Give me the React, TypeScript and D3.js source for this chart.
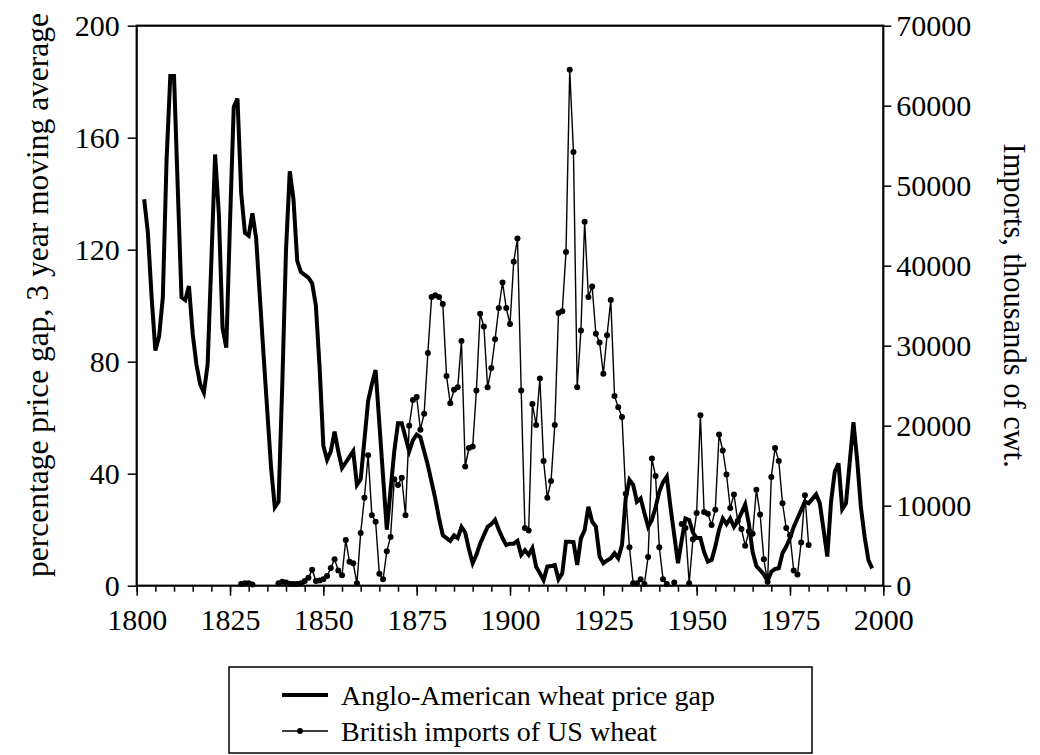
import { useEffect, useRef } from 'react';
import * as d3 from 'd3';

// Anglo-American wheat price gap, % (3 year moving average), one value per year from gapStart
const gapStart = 1802;
const gapValues = [
  138, 126, 103, 84, 89, 103, 152, 182, 182, 142,
  103, 102, 107, 90, 79, 72, 69, 79, 116, 154,
  133, 92, 85, 130, 171, 174, 140, 126, 125, 133,
  124, 103, 82, 62, 42, 28, 30, 72, 120, 148,
  138, 116, 112, 111, 110, 108, 100, 78, 50, 45,
  48, 55, 48, 42, 44, 46, 48, 36, 38, 52,
  66, 72, 77, 58, 39, 20, 34, 48, 58, 58,
  53, 48, 52, 54, 53, 48, 43, 37, 31, 24,
  18, 17, 16, 18, 17, 21, 19, 13, 8, 11,
  15, 18, 21, 22, 23.5, 20, 17, 14.5, 15, 15,
  16, 11, 12.7, 11, 13.4, 6.8, 4.5, 2, 6.8, 7,
  7.4, 2.3, 4.4, 15.7, 15.7, 15.6, 7.4, 16.9, 19.9, 28.2,
  22.9, 21.1, 10.4, 8, 9, 9.8, 11.6, 9.8, 14.5, 31.2,
  37.8, 36, 30, 31.2, 26, 21.1, 23.5, 28, 33.6, 37,
  39, 28, 18, 8, 16.3, 24, 23.5, 19, 17, 17,
  12, 8.6, 9.2, 14, 20, 24, 22, 24, 21, 23,
  26, 29, 22, 12, 7, 5.6, 4, 1.7, 5, 6,
  6.2, 11.6, 14, 17, 21, 24, 27, 30, 29.4, 31,
  32.6, 29.4, 20, 10.4, 30, 40.7, 43.7, 27.3, 29.4, 44,
  58.4, 44.9, 28, 17.5, 9.2, 6.2,
];

// British imports of US wheat, thousands of cwt, from importStart (null = no data)
const importStart = 1828;
const importValues: (number | null)[] = [
  200, 300, 300, 150, null, null, null, null, null, null,
  300, 500, 400, 250, 200, 200, 300, 600, 1000, 2000,
  600, 650, 800, 1200, 2200, 3300, 1900, 1300, 5700, 3000,
  2800, 300, 6600, 11000, 16300, 8800, 8000, 1500, 800, 4300,
  6100, 13300, 12600, 13500, 8800, 20000, 23200, 23600, 19500, 21500,
  29100, 36100, 36300, 36100, 35200, 26200, 22800, 24500, 24800, 30600,
  14900, 17200, 17400, 24400, 34000, 32400, 24800, 27200, 30800, 34700,
  37900, 34700, 32700, 40500, 43400, 24400, 7200, 6900, 22700, 20100,
  25900, 15600, 11000, 13100, 20100, 34100, 34300, 41700, 64500, 54200,
  24800, 31900, 45500, 36100, 37400, 31500, 30400, 26500, 31300, 35700,
  23700, 22300, 21100, 11500, 4800, 300, 300, 800, 200, 3600,
  15900, 13700, 4800, 800, 200, null, 400, null, 7700, 7200,
  300, 5800, 9100, 21300, 9200, 9000, 7600, 9500, 18900, 16900,
  13900, 9700, 11400, 8100, 7100, 5000, 6800, 6500, 12000, 8900,
  3300, 500, 13600, 17200, 15600, 10300, 7200, 6300, 1900, 1400,
  5400, 11300, 5100,
];

const leftTicks = [0, 40, 80, 120, 160, 200];
const rightTicks = [0, 10000, 20000, 30000, 40000, 50000, 60000, 70000];
const yearTicks = [1800, 1825, 1850, 1875, 1900, 1925, 1950, 1975, 2000];

const leftTitle = 'percentage price gap, 3 year moving average';
const rightTitle = 'Imports, thousands of cwt.';
const legendGap = 'Anglo-American wheat price gap';
const legendImports = 'British imports of US wheat';

const FONT = '"Liberation Serif", "Times New Roman", serif';

export default function App() {
  const svgRef = useRef<SVGSVGElement>(null);

  useEffect(() => {
    if (!svgRef.current) return;
    const svg = d3.select(svgRef.current);
    svg.selectAll('*').remove();

    const left = 136.7, right = 883.3, top = 25.7, bottom = 585.7;

    const x = d3.scaleLinear().domain([1800, 2000]).range([left, right]);
    const yL = d3.scaleLinear().domain([0, 200]).range([bottom, top]);
    const yR = d3.scaleLinear().domain([0, 70000]).range([bottom, top]);

    const gap = gapValues.map((v, i) => ({ year: gapStart + i, v }));
    const imports = importValues.map((v, i) => ({ year: importStart + i, v }));

    // axes
    const styleAxis = (g: d3.Selection<SVGGElement, unknown, null, undefined>) => {
      g.select('.domain').remove();
      g.selectAll('line').attr('stroke', '#000').attr('stroke-width', 1.5);
      g.selectAll('text').attr('font-family', FONT).attr('font-size', 30).attr('fill', '#000');
    };

    svg.append('g')
      .attr('transform', `translate(${left},0)`)
      .call(d3.axisLeft(yL).tickValues(leftTicks).tickSize(9).tickPadding(8).tickSizeOuter(0))
      .call(styleAxis);

    svg.append('g')
      .attr('transform', `translate(${right},0)`)
      .call(d3.axisRight(yR).tickValues(rightTicks).tickSize(8).tickPadding(5).tickSizeOuter(0).tickFormat(d3.format('d')))
      .call(styleAxis);

    svg.append('g')
      .attr('transform', `translate(0,${bottom})`)
      .call(d3.axisBottom(x).tickValues(d3.range(1800, 2001, 5)).tickSize(6).tickFormat(() => '').tickSizeOuter(0))
      .call(styleAxis);

    const xb = svg.append('g')
      .attr('transform', `translate(0,${bottom})`)
      .call(d3.axisBottom(x).tickValues(yearTicks).tickSize(10).tickPadding(13).tickFormat(d3.format('d')).tickSizeOuter(0))
      .call(styleAxis);
    xb.selectAll('text').attr('dy', '0.71em');

    // frame
    svg.append('rect')
      .attr('x', left).attr('y', top)
      .attr('width', right - left).attr('height', bottom - top)
      .attr('fill', 'none').attr('stroke', '#000').attr('stroke-width', 2.2);

    // imports (thin line with dots)
    const lineR = d3.line<{ year: number; v: number | null }>()
      .defined((d) => d.v !== null)
      .x((d) => x(d.year))
      .y((d) => yR(d.v as number));

    svg.append('path')
      .datum(imports)
      .attr('d', lineR)
      .attr('fill', 'none')
      .attr('stroke', '#000')
      .attr('stroke-width', 1.4);

    svg.append('g')
      .selectAll('circle')
      .data(imports.filter((d) => d.v !== null))
      .join('circle')
      .attr('cx', (d) => x(d.year))
      .attr('cy', (d) => yR(d.v as number))
      .attr('r', 3)
      .attr('fill', '#000');

    // price gap (thick line)
    const lineL = d3.line<{ year: number; v: number }>()
      .x((d) => x(d.year))
      .y((d) => yL(d.v));

    svg.append('path')
      .datum(gap)
      .attr('d', lineL)
      .attr('fill', 'none')
      .attr('stroke', '#000')
      .attr('stroke-width', 4)
      .attr('stroke-linejoin', 'miter');

    // axis titles
    svg.append('text')
      .attr('transform', `translate(48,295) rotate(-90)`)
      .attr('text-anchor', 'middle')
      .attr('font-family', FONT)
      .attr('font-size', 31.5)
      .text(leftTitle);

    svg.append('text')
      .attr('transform', `translate(1004,${(top + bottom) / 2}) rotate(90)`)
      .attr('text-anchor', 'middle')
      .attr('font-family', FONT)
      .attr('font-size', 30.5)
      .text(rightTitle);

    // legend
    const lg = svg.append('g');
    lg.append('rect')
      .attr('x', 229).attr('y', 667)
      .attr('width', 583).attr('height', 86)
      .attr('fill', 'none').attr('stroke', '#000').attr('stroke-width', 1.5);

    lg.append('line')
      .attr('x1', 282).attr('x2', 328).attr('y1', 695).attr('y2', 695)
      .attr('stroke', '#000').attr('stroke-width', 4);
    lg.append('text')
      .attr('x', 341).attr('y', 705)
      .attr('font-family', FONT).attr('font-size', 28)
      .text(legendGap);

    lg.append('line')
      .attr('x1', 282).attr('x2', 328).attr('y1', 731).attr('y2', 731)
      .attr('stroke', '#000').attr('stroke-width', 1.4);
    lg.append('circle')
      .attr('cx', 300).attr('cy', 731).attr('r', 3).attr('fill', '#000');
    lg.append('text')
      .attr('x', 341).attr('y', 741)
      .attr('font-family', FONT).attr('font-size', 28)
      .text(legendImports);
  }, []);

  return (
    <svg
      ref={svgRef}
      width={1040}
      height={755}
      style={{ position: 'absolute', left: 0, top: 0, background: '#fff' }}
    />
  );
}
